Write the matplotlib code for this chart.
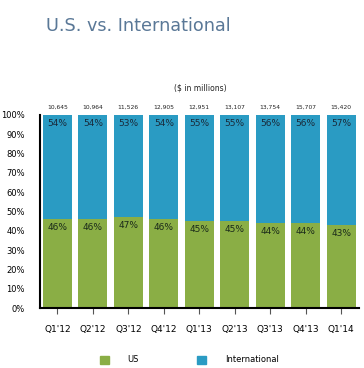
import matplotlib.pyplot as plt
from matplotlib.patches import Patch
import numpy as np

# Data
quarters = ["Q1'12", "Q2'12", "Q3'12", "Q4'12", "Q1'13", "Q2'13", "Q3'13", "Q4'13", "Q1'14"]
totals = [10645, 10964, 11526, 12905, 12951, 13107, 13754, 15707, 15420]
us_pct = [46, 46, 47, 46, 45, 45, 44, 44, 43]
intl_pct = [54, 54, 53, 54, 55, 55, 56, 56, 57]

green = '#8aae45'
blue = '#2a9bc3'

fig = plt.figure(figsize=(3.64, 3.68), dpi=100)
ax = fig.add_axes([0.110, 0.163, 0.876, 0.5245])

x = np.arange(len(quarters))
ax.bar(x, us_pct, width=0.82, color=green)
ax.bar(x, intl_pct, width=0.82, bottom=us_pct, color=blue)

# Labels inside the bars
for i in range(len(x)):
    ax.text(x[i], 100 - 2, '%d%%' % intl_pct[i], ha='center', va='top',
            fontsize=6.5, color='#1a2a3a')
    ax.text(x[i], us_pct[i] - 2, '%d%%' % us_pct[i], ha='center', va='top',
            fontsize=6.5, color='#1a2a1a')
    ax.text(x[i], 102.5, '{:,}'.format(totals[i]), ha='center', va='bottom',
            fontsize=4.3, color='#222222')

ax.set_xlim(-0.49, 8.5)
ax.set_ylim(0, 100)
ax.set_yticks(range(0, 101, 10))
ax.set_yticklabels(['%d%%' % v for v in range(0, 101, 10)], fontsize=6)
ax.set_xticks(x)
ax.set_xticklabels(quarters, fontsize=6.5)
ax.tick_params(axis='y', length=0, pad=11)
ax.tick_params(axis='x', length=4, width=0.8, color='#555555', direction='out', pad=8)

for s in ['top', 'right']:
    ax.spines[s].set_visible(False)
ax.spines['left'].set_linewidth(1.5)
ax.spines['bottom'].set_linewidth(1.5)

# Titles
fig.text(0.125, 0.93, 'U.S. vs. International', fontsize=12.7, color='#5a7897',
         ha='left', va='center')
fig.text(0.55, 0.76, '($ in millions)', fontsize=5.5, color='#222222',
         ha='center', va='center')

# Legend
handles = [Patch(color=green, label='US'), Patch(color=blue, label='International')]
fig.legend(handles=handles, loc='center', bbox_to_anchor=(0.52, 0.022), ncol=2,
           frameon=False, fontsize=6, handlelength=1.1, handleheight=1.1,
           handletextpad=2.2, columnspacing=7)

fig.savefig('out.png', dpi=100)
